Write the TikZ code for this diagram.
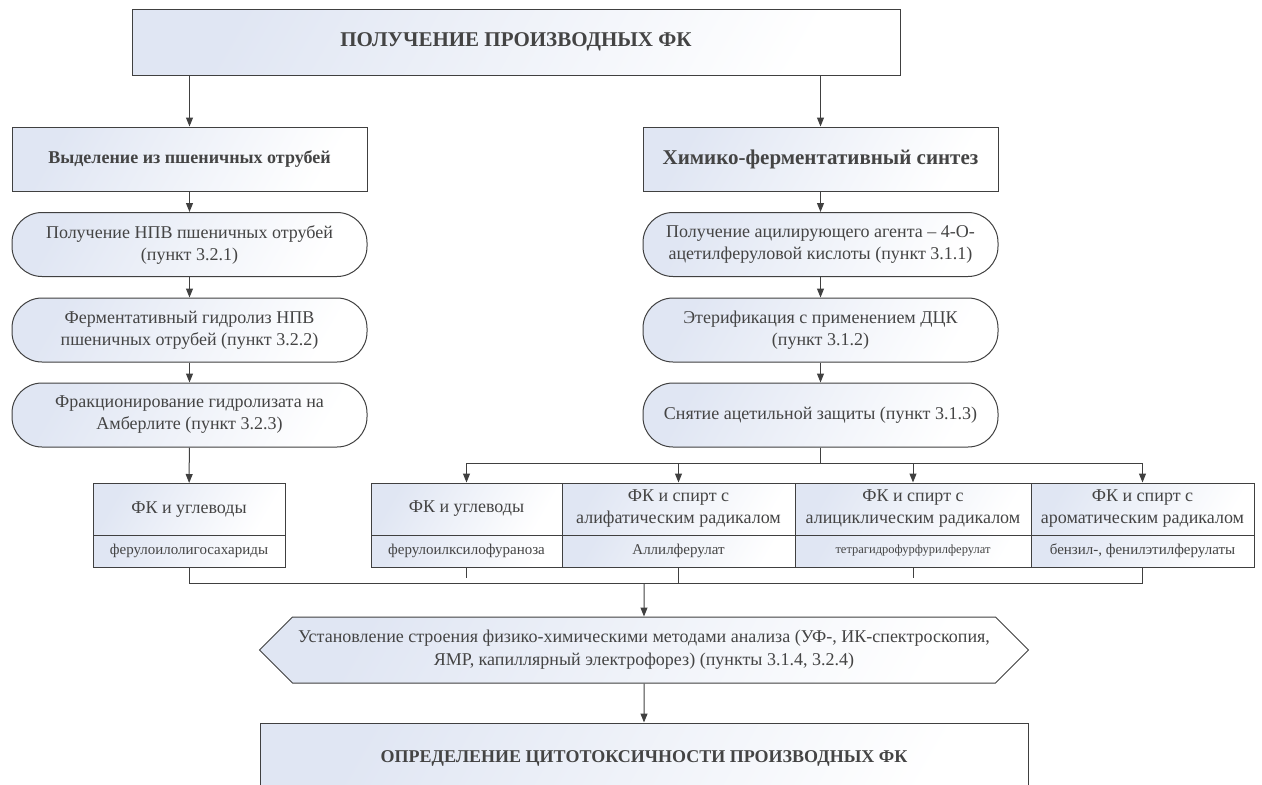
\documentclass[tikz,border=0pt]{standalone}
\usepackage{fontspec}
\setmainfont{Liberation Serif}
\usetikzlibrary{shapes.symbols,arrows.meta}
\definecolor{boxline}{HTML}{404040}
\definecolor{boxtext}{HTML}{444444}
\definecolor{boxshade}{HTML}{E0E6F3}

\begin{document}
\begin{tikzpicture}
[x=1pt, y=-1pt, every node/.style={inner sep=0pt, text=boxtext, align=center},
 block/.style={rectangle, draw=boxline, line width=1pt, top color=boxshade, bottom color=white, shading angle=60},
 head/.style={block, minimum width=355pt, minimum height=64pt},
 stage/.style={block, rounded corners=30pt, minimum width=355pt, minimum height=64pt, font=\fontsize{18}{22}\selectfont},
 cellhead/.style={block, minimum height=52pt, font=\fontsize{18}{22}\selectfont},
 cellsub/.style={block, minimum height=32pt, font=\fontsize{15}{18}\selectfont},
 link/.style={line width=1pt, draw=boxline},
 >={Triangle[length=9pt, width=7pt]}]
\useasboundingbox (0,0) rectangle (1262,785);
\clip (0,0) rectangle (1262,785);
\node (top) [block, minimum width=768pt, minimum height=66pt, font=\bfseries\fontsize{21}{25}\selectfont] at (516, 42) {ПОЛУЧЕНИЕ ПРОИЗВОДНЫХ ФК};
\node (isol) [head, font=\bfseries\fontsize{18}{22}\selectfont] at (189.5, 159) {Выделение из пшеничных отрубей};
\node (synth) [head, font=\bfseries\fontsize{21}{25}\selectfont] at (820.5, 159) {Химико-ферментативный синтез};
\node (l1) [stage] at (189.5, 244.5) {Получение НПВ пшеничных отрубей\\(пункт 3.2.1)};
\node (l2) [stage] at (189.5, 330) {Ферментативный гидролиз НПВ\\пшеничных отрубей (пункт 3.2.2)};
\node (l3) [stage] at (189.5, 415) {Фракционирование гидролизата на\\Амберлите (пункт 3.2.3)};
\node (r1) [stage] at (820.5, 244.5) {Получение ацилирующего агента – 4-О-\\ацетилферуловой кислоты (пункт 3.1.1)};
\node (r2) [stage] at (820.5, 330) {Этерификация с применением ДЦК\\(пункт 3.1.2)};
\node (r3) [stage] at (820.5, 415) {Снятие ацетильной защиты (пункт 3.1.3)};
\node (lfth) [cellhead, minimum width=192pt] at (189, 509.5) {ФК и углеводы};
\node (lfts) [cellsub, minimum width=192pt] at (189, 551) {ферулоилолигосахариды};
\node (c1h) [cellhead, minimum width=191pt] at (466.5, 509) {ФК и углеводы};
\node (c1s) [cellsub, minimum width=191pt] at (466.5, 551) {ферулоилксилофураноза};
\node (c2h) [cellhead, minimum width=233pt] at (678.5, 509) {ФК и спирт с\\алифатическим радикалом};
\node (c2s) [cellsub, minimum width=233pt] at (678.5, 551) {Аллилферулат};
\node (c3h) [cellhead, minimum width=236pt] at (913, 509) {ФК и спирт с\\алициклическим радикалом};
\node (c3s) [cellsub, minimum width=236pt, font=\fontsize{12.5}{15}\selectfont] at (913, 551) {тетрагидрофурфурилферулат};
\node (c4h) [cellhead, minimum width=223pt] at (1142.5, 509) {ФК и спирт с\\ароматическим радикалом};
\node (c4s) [cellsub, minimum width=223pt] at (1142.5, 551) {бензил-, фенилэтилферулаты};
\node (hex) [block, signal, signal to=west and east, signal pointer angle=90, minimum width=769pt, minimum height=66pt, font=\fontsize{18}{23}\selectfont] at (644, 650) {Установление строения физико-химическими методами анализа (УФ-, ИК-спектроскопия,\\ЯМР, капиллярный электрофорез) (пункты 3.1.4, 3.2.4)};
\node (final) [block, minimum width=768pt, minimum height=70pt, font=\bfseries\fontsize{18}{22}\selectfont] at (644, 758) {ОПРЕДЕЛЕНИЕ ЦИТОТОКСИЧНОСТИ ПРОИЗВОДНЫХ ФК};
\coordinate (split) at (820.5, 463);
\coordinate (merge) at (644, 583);
\draw [link, ->] (top.south -| isol.north) to (isol.north);
\draw [link, ->] (top.south -| synth.north) to (synth.north);
\draw [link, ->] (isol) to (l1);
\draw [link, ->] (l1) to (l2);
\draw [link, ->] (l2) to (l3);
\draw [link, ->] (l3) to (lfth);
\draw [link, ->] (synth) to (r1);
\draw [link, ->] (r1) to (r2);
\draw [link, ->] (r2) to (r3);
\draw [link, ->] (r3) -- (split) -| (c1h);
\draw [link, ->] (r3) -- (split) -| (c2h);
\draw [link, ->] (r3) -- (split) -| (c3h);
\draw [link, ->] (r3) -- (split) -| (c4h);
\draw [link] (lfts) |- (merge);
\draw [link] (c4s) |- (merge);
\draw [link] (c2s) -- (c2s |- merge);
\draw [link] (c1s.south) -- ++(0, 10);
\draw [link] (c3s.south) -- ++(0, 10);
\draw [link, ->] (merge) to (hex);
\draw [link, ->] (hex) to (final);
\end{tikzpicture}
\end{document}
